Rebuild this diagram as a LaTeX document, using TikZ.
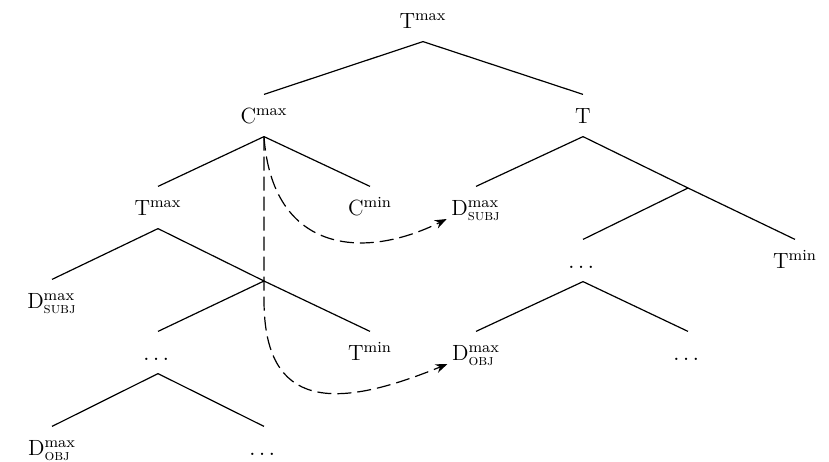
\documentclass[tikz,border=0pt]{standalone}
\usepackage{amsmath}
\usepackage{tikz}
\usetikzlibrary{arrows.meta}

\newcommand{\lmax}[1]{#1$^{\text{max}}$}
\newcommand{\lmin}[1]{#1$^{\text{min}}$}
\newcommand{\dlab}[1]{D$^{\text{max}}_{\text{\textsc{#1}}}$}

\begin{document}
\begin{tikzpicture}[x=0.5pt,y=-0.5pt,line width=0.6pt]
\tikzstyle{every node}+=[inner xsep=2pt,inner ysep=0pt]
\tikzstyle{lbl}=[anchor=base,text height=14pt,text depth=6.5pt,font=\fontsize{11}{13}\selectfont]
\tikzstyle{move}=[dash pattern=on 7pt off 3pt,-{Stealth[length=6pt,width=4.5pt]}]
\useasboundingbox (0,0) rectangle (829,461);
% top of the tree
\node [lbl] (root) at (423,28) {\lmax{T}};
\node [lbl] (Cmax) at (264,123) {\lmax{C}};
\node [lbl] (T) at (583,123) {T};
% left part
\node [lbl] (TmaxL) at (158,215) {\lmax{T}};
\node [lbl] (Cmin) at (370,215) {\lmin{C}};
\node [lbl] (DsubjL) at (52,308) {\dlab{subj}};
\coordinate (TbarL) at (264,281);
\node [lbl] (dotsL) at (158,360) {$\dots$};
\node [lbl] (TminL) at (370,360) {\lmin{T}};
\node [lbl] (DobjL) at (52,455) {\dlab{obj}};
\node [lbl] (dotsLL) at (264,455) {$\dots$};
% right part
\node [lbl] (DsubjR) at (476,215) {\dlab{subj}};
\coordinate (TbarR) at (688,188);
\node [lbl] (dotsR) at (583,268) {$\dots$};
\node [lbl] (TminR) at (795,268) {\lmin{T}};
\node [lbl] (DobjR) at (476,360) {\dlab{obj}};
\node [lbl] (dotsRR) at (688,360) {$\dots$};
% branches
\draw (root.south) -- (Cmax.north);
\draw (root.south) -- (T.north);
\draw (Cmax.south) -- (TmaxL.north);
\draw (Cmax.south) -- (Cmin.north);
\draw (TmaxL.south) -- (DsubjL.north);
\draw (TmaxL.south) -- (TbarL);
\draw (TbarL) -- (dotsL.north);
\draw (TbarL) -- (TminL.north);
\draw (dotsL.south) -- (DobjL.north);
\draw (dotsL.south) -- (dotsLL.north);
\draw (T.south) -- (DsubjR.north);
\draw (T.south) -- (TbarR);
\draw (TbarR) -- (dotsR.north);
\draw (TbarR) -- (TminR.north);
\draw (dotsR.south) -- (DobjR.north);
\draw (dotsR.south) -- (dotsRR.north);
% movement
\draw [move] (Cmax.south) .. controls (272,250) and (360,262) .. ([yshift=-2pt]DsubjR.base west);
\draw [move] (Cmax.south) -- (264,300) .. controls (264,410) and (335,410) .. ([yshift=-2pt]DobjR.base west);
\end{tikzpicture}
\end{document}
